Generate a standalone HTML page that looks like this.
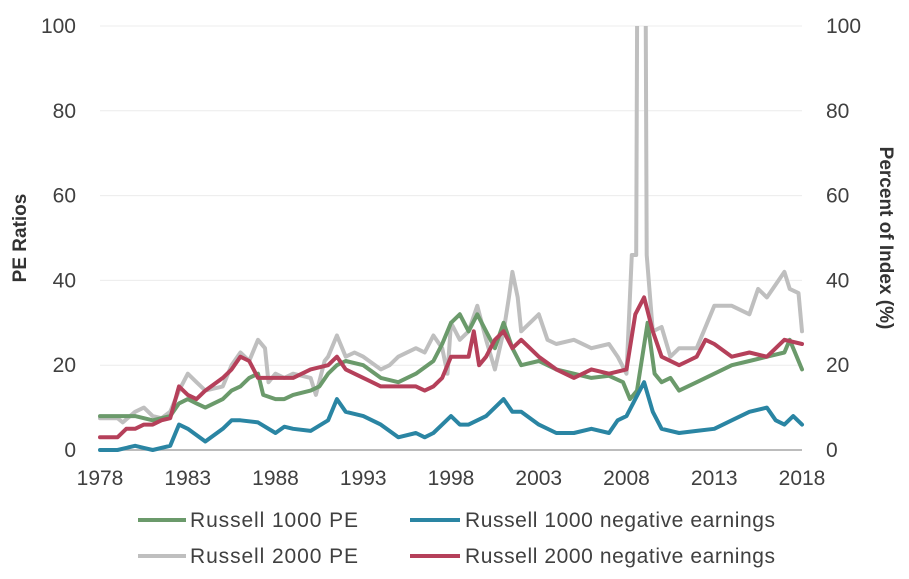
<!DOCTYPE html>
<html><head><meta charset="utf-8"><style>
body{margin:0;background:#fff;}
svg{display:block;font-family:"Liberation Sans",sans-serif;}
</style></head><body>
<svg id="chart" width="909" height="579">
<defs><clipPath id="clip"><rect x="95" y="26" width="715" height="430"/></clipPath></defs>
<g id="grid"></g>
<g id="axes"></g>
<g id="series" clip-path="url(#clip)"></g>
<text x="26" y="238" transform="rotate(-90 26 238)" text-anchor="middle" font-size="19" font-weight="bold" fill="#333">PE Ratios</text>
<text x="880" y="238" transform="rotate(90 880 238)" text-anchor="middle" font-size="19" font-weight="bold" fill="#333">Percent of Index (%)</text>
<g>
<g><line x1="138" y1="520" x2="186" y2="520" stroke="#6b9a6b" stroke-width="4"/><text x="190" y="527" font-size="21" textLength="168" fill="#404040">Russell 1000 PE</text></g>
<g><line x1="410" y1="520" x2="460" y2="520" stroke="#2a85a3" stroke-width="4"/><text x="465" y="527" font-size="21" textLength="310" fill="#404040">Russell 1000 negative earnings</text></g>
<g><line x1="138" y1="556" x2="186" y2="556" stroke="#bfbfbf" stroke-width="4"/><text x="190" y="563" font-size="21" textLength="168" fill="#404040">Russell 2000 PE</text></g>
<g><line x1="410" y1="556" x2="460" y2="556" stroke="#b5405a" stroke-width="4"/><text x="465" y="563" font-size="21" textLength="310" fill="#404040">Russell 2000 negative earnings</text></g>
</g>
</svg>
<script>
const yTicks=[0,20,40,60,80,100];
const xTicks=[1978,1983,1988,1993,1998,2003,2008,2013,2018];
const greenYears=[1978,1979,1980,1981,1982,1982.5,1983,1983.5,1984,1985,1985.5,1986,1986.5,1987,1987.3,1988,1988.5,1989,1990,1990.5,1991,1991.5,1992,1993,1994,1995,1996,1997,1997.5,1998,1998.5,1999,1999.5,2000,2000.5,2001,2001.5,2002,2003,2004,2005,2006,2007,2007.8,2008.2,2008.6,2009.2,2009.6,2010,2010.5,2011,2012,2013,2014,2015,2016,2017,2017.3,2017.6,2018];
const greenVals=[8,8,8,7,8,11,12,11,10,12,14,15,17,18,13,12,12,13,14,15,18,20,21,20,17,16,18,21,25,30,32,28,32,28,24,30,24,20,21,19,18,17,17.5,16,12,14,30,18,16,17,14,16,18,20,21,22,23,26,23,19];
const grayYears=[1978,1979,1979.3,1980,1980.5,1981,1981.5,1982,1982.5,1983,1983.5,1984,1985,1985.5,1986,1986.5,1987,1987.4,1987.6,1988,1988.5,1989,1990,1990.3,1990.8,1991,1991.5,1992,1992.5,1993,1994,1994.5,1995,1996,1996.5,1997,1997.5,1997.8,1998,1998.5,1999,1999.5,2000,2000.5,2001,2001.3,2001.5,2001.8,2002,2003,2003.5,2004,2005,2006,2007,2007.5,2008,2008.3,2008.55,2008.65,2009.05,2009.15,2009.5,2010,2010.5,2011,2012,2013,2014,2015,2015.5,2016,2017,2017.3,2017.8,2018];
const grayVals=[7.5,7.5,6.5,9,10,8,7.5,9,14,18,16,14,15,20,23,21,26,24,16,18,17,18,17,13,21,22,27,22,23,22,19,20,22,24,23,27,24,18,30,26,28,34,26,19,28,36,42,36,28,32,26,25,26,24,25,22,18,46,46,150,150,46,28,29,22,24,24,34,34,32,38,36,42,38,37,28];
const redYears=[1978,1979,1979.5,1980,1980.5,1981,1981.5,1982,1982.5,1983,1983.5,1984,1985,1985.5,1986,1986.5,1987,1988,1989,1990,1991,1991.5,1992,1993,1994,1995,1996,1996.5,1997,1997.5,1998,1998.5,1999,1999.3,1999.6,2000,2000.5,2001,2001.5,2002,2003,2004,2005,2006,2007,2008,2008.5,2009,2009.5,2010,2011,2011.5,2012,2012.5,2013,2014,2015,2016,2017,2018];
const redVals=[3,3,5,5,6,6,7,7.5,15,13,12,14,17,19,22,21,17,17,17,19,20,22,19,17,15,15,15,14,15,17,22,22,22,28,20,22,26,28,24,26,22,19,17,19,18,19,32,36,28,22,20,21,22,26,25,22,23,22,26,25];
const blueYears=[1978,1979,1980,1980.5,1981,1982,1982.5,1983,1984,1985,1985.5,1986,1987,1988,1988.5,1989,1990,1991,1991.5,1992,1993,1994,1995,1996,1996.5,1997,1997.5,1998,1998.5,1999,2000,2001,2001.5,2002,2003,2004,2005,2006,2007,2007.5,2008,2008.5,2009,2009.5,2010,2011,2012,2013,2014,2015,2016,2016.5,2017,2017.5,2018];
const blueVals=[0,0,1,0.5,0,1,6,5,2,5,7,7,6.5,4,5.5,5,4.5,7,12,9,8,6,3,4,3,4,6,8,6,6,8,12,9,9,6,4,4,5,4,7,8,12,16,9,5,4,4.5,5,7,9,10,7,6,8,6];

const NS="http://www.w3.org/2000/svg";
const X0=100,X1=802,Y0=450,Y1=26;
function xs(y){return X0+(y-1978)/(2018-1978)*(X1-X0);}
function ys(v){return Y0-v/100*(Y0-Y1);}
const grid=document.getElementById('grid'),axes=document.getElementById('axes'),ser=document.getElementById('series');
function mk(tag,attrs,parent,txt){const e=document.createElementNS(NS,tag);for(const k in attrs)e.setAttribute(k,attrs[k]);if(txt!==undefined)e.textContent=txt;parent.appendChild(e);return e;}
yTicks.forEach(t=>{
  if(t>0){const g=mk('line',{x1:X0,x2:X1,y1:ys(t),y2:ys(t),stroke:'#ececec','stroke-width':1},grid);
  
  }
  const l=mk('text',{x:76,y:ys(t)+7,'text-anchor':'end','font-size':21,fill:'#404040'},axes,t);
  
  
  const r=mk('text',{x:826,y:ys(t)+7,'text-anchor':'start','font-size':21,fill:'#404040'},axes,t);
  
  
});
const base=mk('line',{x1:X0,x2:X1,y1:Y0,y2:Y0,stroke:'#a6a6a6','stroke-width':1.5},axes);


xTicks.forEach(t=>{
  const l=mk('text',{x:xs(t),y:485,'text-anchor':'middle','font-size':21,fill:'#404040'},axes,t);
  
  
});
function line(yrs,vals,color,name){
  const d=yrs.map((y,i)=>(i?'L':'M')+xs(y).toFixed(1)+','+ys(vals[i]).toFixed(1)).join('');
  const p=mk('path',{d:d,fill:'none',stroke:color,'stroke-width':4,'stroke-linejoin':'round','stroke-linecap':'round'},ser);
  
  
}
line(grayYears,grayVals,'#bfbfbf','r2000-pe-line');
line(greenYears,greenVals,'#6b9a6b','r1000-pe-line');
line(redYears,redVals,'#b5405a','r2000-neg-earnings-line');
line(blueYears,blueVals,'#2a85a3','r1000-neg-earnings-line');
</script>
</body></html>
